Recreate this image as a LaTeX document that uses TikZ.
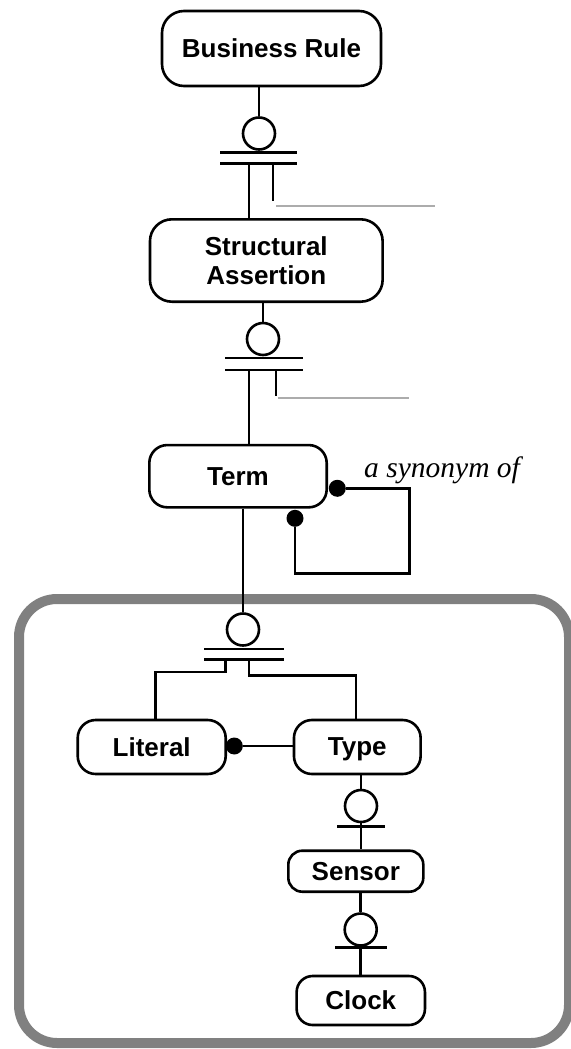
\documentclass[tikz,border=0pt]{standalone}
\usepackage{fontspec}
\setmainfont{Liberation Sans}
\newfontfamily\synfont{Liberation Serif}
\begin{document}
\begin{tikzpicture}[x=1pt,y=-1pt,
  ent/.style={draw, line width=2.6pt, rounded corners=18pt, inner sep=0pt, align=center,
              text depth=0pt, font=\bfseries\fontsize{26}{29}\selectfont},
  ring/.style={draw, circle, line width=2.6pt, minimum size=32pt, inner sep=0pt},
  link/.style={line width=2.7pt},
  dot/.style={circle, fill, minimum size=17pt, inner sep=0pt},
  note/.style={draw=gray!65, line width=2.2pt},
  frame/.style={draw=gray, line width=10pt, rounded corners=38pt}]
\useasboundingbox (0,0) rectangle (570,1049);

% grouping frame around the term subtypes
\draw[frame] (19,599) rectangle (569,1043);

% entities
\node[ent, minimum width=219pt, minimum height=75pt, rounded corners=22pt] (br) at (271.5,48.5) {Business Rule};
\node[ent, minimum width=232.7pt, minimum height=82.4pt, rounded corners=22pt] (sa) at (266.3,260.5) {Structural\\Assertion};
\node[ent, minimum width=177.4pt, minimum height=62.3pt] (term) at (238,476.2) {Term};
\node[ent, minimum width=148pt, minimum height=54pt] (lit) at (151.7,747) {Literal};
\node[ent, minimum width=126.7pt, minimum height=54pt] (type) at (357.3,747) {Type};
\node[ent, minimum width=135pt, minimum height=41pt, rounded corners=14pt] (sensor) at (355.8,871.2) {Sensor};
\node[ent, minimum width=128.3pt, minimum height=49pt, rounded corners=16pt] (clock) at (360.8,1000.5) {Clock};

% optional markers
\node[ring] (r1) at (259,133.5) {};
\node[ring] (r2) at (263,339) {};
\node[ring] (r3) at (243,629.5) {};
\node[ring] (r4) at (361,806) {};
\node[ring] (r5) at (360.7,929.5) {};

% Business Rule -> Structural Assertion
\draw[link] (r1.north |- br.south) -- (r1.north);
\coordinate (b1l) at (220,152.7); \coordinate (b1r) at (297,152.7);
\coordinate (b2l) at (220,163.3); \coordinate (b2r) at (297,163.3);
\draw[link] (b1l) -- (b1r);
\draw[link] (b2l) -- (b2r);
\coordinate (j1) at (249,163.3);
\draw[link] (j1) -- (j1 |- sa.north);
\coordinate (t1) at (273,163.3);
\draw[link] (t1) -- ++(0,38);
\coordinate (n1a) at (276,206); \coordinate (n1b) at (435,206);
\draw[note] (n1a) -- (n1b);

% Structural Assertion -> Term
\draw[link] (r2.north |- sa.south) -- (r2.north);
\coordinate (b3l) at (225,358); \coordinate (b3r) at (303,358);
\coordinate (b4l) at (225,370); \coordinate (b4r) at (303,370);
\draw[link] (b3l) -- (b3r);
\draw[link] (b4l) -- (b4r);
\coordinate (j2) at (249,370);
\draw[link] (j2) -- (j2 |- term.north);
\coordinate (t2) at (276,370);
\draw[link] (t2) -- ++(0,26);
\coordinate (n2a) at (278,398); \coordinate (n2b) at (409,398);
\draw[note] (n2a) -- (n2b);

% synonym self-relation on Term
\node[dot] (d1) at (337.3,488.3) {};
\node[dot] (d2) at (295,518.3) {};
\coordinate (loop) at (409.3,573.3);
\draw[link] (d1) -| (loop) -| (d2);
\node[font=\synfont\itshape\fontsize{29.5}{31}\selectfont, anchor=base west, inner sep=0pt] (syn) at (364,477) {a synonym of};

% Term -> Literal / Type
\draw[link] (r3.north |- term.south) -- (r3.north);
\coordinate (b5l) at (204,649); \coordinate (b5r) at (284,649);
\coordinate (b6l) at (204,659.5); \coordinate (b6r) at (284,659.5);
\draw[link] (b5l) -- (b5r);
\draw[link] (b6l) -- (b6r);
\coordinate (s1) at (225.7,659.5);
\draw[link] (s1) -- ++(0,12.5) -| ([xshift=4pt]lit.north);
\coordinate (s2) at (249,659.5);
\draw[link] (s2) -- ++(0,16.2) -| ([xshift=-1.3pt]type.north);

% Type -> Literal
\node[dot] (d3) at (234.3,746) {};
\draw[link] (d3) -- (d3 -| type.west);

% Type -> Sensor
\draw[link] (r4.north |- type.south) -- (r4.north);
\coordinate (b7l) at (337,826.7); \coordinate (b7r) at (385,826.7);
\draw[link] (b7l) -- (b7r);
\draw[link] (r4.south) -- (r4.south |- sensor.north);

% Sensor -> Clock
\draw[link] (r5.north |- sensor.south) -- (r5.north);
\coordinate (b8l) at (335,947.3); \coordinate (b8r) at (387,947.3);
\draw[link] (b8l) -- (b8r);
\draw[link] (r5.south) -- (r5.south |- clock.north);
\end{tikzpicture}
\end{document}
